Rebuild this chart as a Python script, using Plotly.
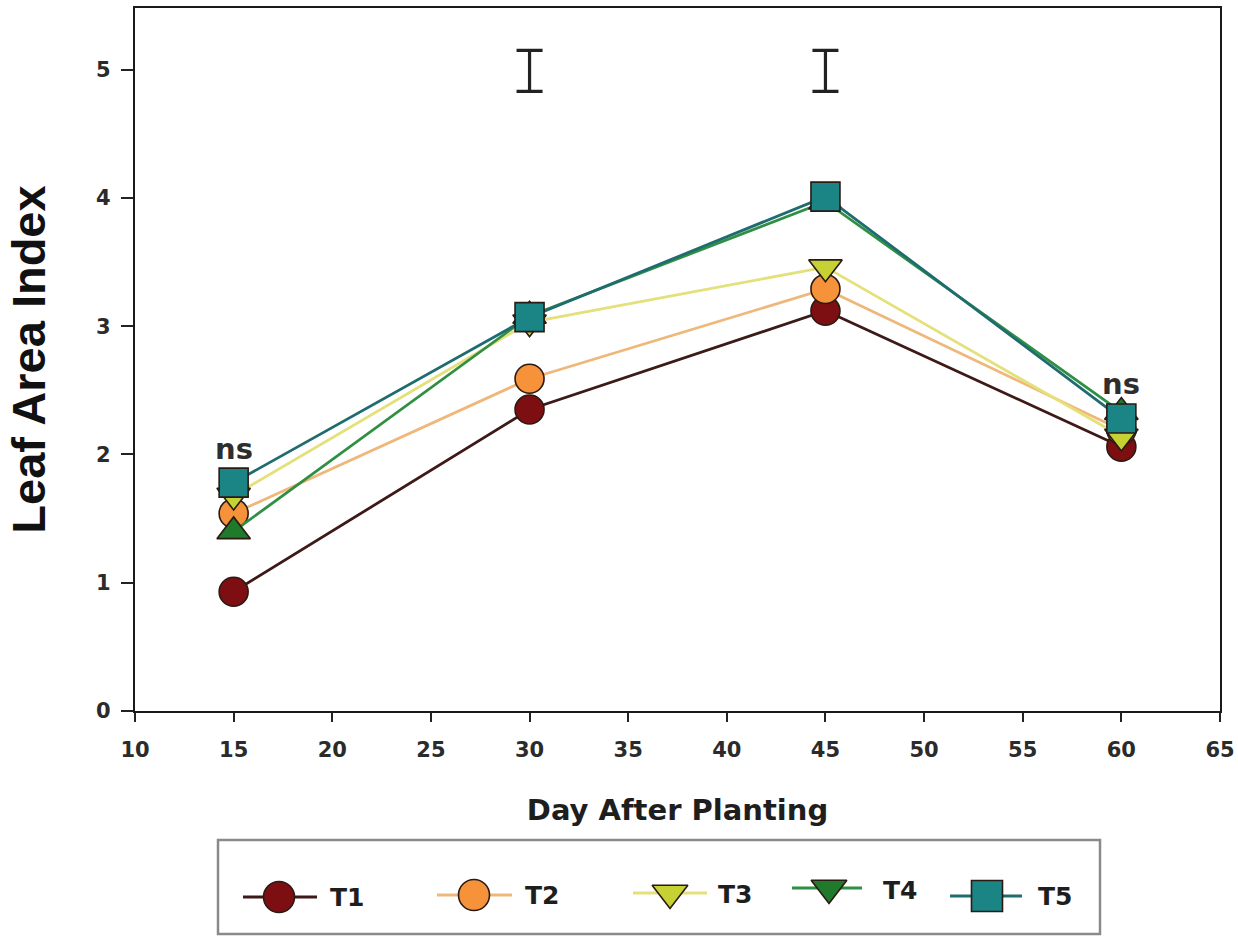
import plotly.graph_objects as go

# Days after planting and leaf area index per treatment
days = [15, 30, 45, 60]
t1 = [0.93, 2.35, 3.12, 2.06]
t2 = [1.54, 2.59, 3.29, 2.19]
t3 = [1.68, 3.03, 3.46, 2.14]
t4 = [1.40, 3.08, 3.97, 2.33]
t5 = [1.78, 3.07, 4.01, 2.28]

# LSD bars above the sampling dates with significant differences
lsd_days = [30, 45]
lsd_center = [4.99, 4.99]
lsd_half = [0.16, 0.16]

# "ns" labels for dates without significant differences
ns_days = [15, 60]
ns_y = [2.04, 2.55]

names = ["T1", "T2", "T3", "T4", "T5"]
values = [t1, t2, t3, t4, t5]

# styling per treatment: plot symbol, legend symbol, fill, line colour
plot_symbols = ["circle", "circle", "triangle-down", "triangle-up", "square"]
legend_symbols = ["circle", "circle", "triangle-down", "triangle-down", "square"]
fills = ["#7d0f12", "#f5923a", "#c6d134", "#1f7a2c", "#1b8585"]
lines = ["#3d1a18", "#efb87a", "#e4e07a", "#2f8f42", "#1f6c70"]

# hand-built legend layout (pixel coordinates on the legend axes)
leg_line_left = [243, 437, 633, 792, 950]
leg_line_right = [317, 512, 707, 862, 1022]
leg_marker_x = [279, 474, 670, 829, 987]
leg_row_y = [897, 895, 893, 888, 896]
leg_text_x = [328, 523, 716, 881, 1036]
leg_text_y = [897, 895, 894, 890, 896]

tick_family = "DejaVu Sans, Verdana, sans-serif"
edge = "#2a1a14"

fig = go.Figure()

for name, vals, sym, fill, line in zip(names, values, plot_symbols, fills, lines):
    fig.add_trace(go.Scatter(
        x=days, y=vals, mode="lines+markers", name=name, showlegend=False,
        line=dict(color=line, width=2.8),
        marker=dict(symbol=sym, size=29, color=fill, line=dict(color=edge, width=1.6)),
    ))

fig.add_trace(go.Scatter(
    x=lsd_days, y=lsd_center, mode="markers", showlegend=False,
    marker=dict(size=1, color="rgba(0,0,0,0)"),
    error_y=dict(type="data", array=lsd_half, visible=True,
                 color="#222222", thickness=3.2, width=13),
))

for xd, yd in zip(ns_days, ns_y):
    fig.add_annotation(x=xd, y=yd, text="<b>ns</b>", showarrow=False,
                       font=dict(family=tick_family, size=29, color="#2e2e2e"))

# Legend drawn on its own pair of hidden axes below the plot
for i, name in enumerate(names):
    fig.add_trace(go.Scatter(
        x=[leg_line_left[i], leg_line_right[i]], y=[leg_row_y[i], leg_row_y[i]],
        xaxis="x2", yaxis="y2", mode="lines", showlegend=False, hoverinfo="skip",
        line=dict(color=lines[i], width=2.8),
    ))
    fig.add_trace(go.Scatter(
        x=[leg_marker_x[i]], y=[leg_row_y[i]], xaxis="x2", yaxis="y2",
        mode="markers", showlegend=False, hoverinfo="skip",
        marker=dict(symbol=legend_symbols[i], size=31, color=fills[i],
                    line=dict(color=edge, width=1.6)),
    ))
    fig.add_annotation(x=leg_text_x[i], y=leg_text_y[i], xref="x2", yref="y2",
                       text=f"<b>{name}</b>", showarrow=False, xanchor="left",
                       font=dict(family=tick_family, size=25, color="#1e1e1e"))

fig.add_shape(type="rect", xref="x2", yref="y2", x0=218, x1=1100, y0=840, y1=934,
              line=dict(color="#8a8a8a", width=2.5), fillcolor="rgba(0,0,0,0)")

plot_bottom = 226 / 929

fig.update_layout(
    width=1238, height=937,
    margin=dict(l=135, r=18, t=8, b=0),
    paper_bgcolor="white", plot_bgcolor="white",
    showlegend=False,
    font=dict(family=tick_family, color="#222222"),
    xaxis=dict(
        automargin=False,
        range=[10, 65], tickmode="array", tickvals=list(range(10, 70, 5)),
        ticks="outside", ticklen=9, tickwidth=2, tickcolor="#222222",
        ticklabelstandoff=10,
        showline=True, linecolor="#1a1a1a", linewidth=2.2, mirror=True,
        showgrid=False, zeroline=False,
        tickfont=dict(size=21, color="#2b2b2b", family=tick_family, weight="bold"),
        title=dict(text="<b>Day After Planting</b>",
                   font=dict(size=29, color="#1e1e1e", family=tick_family), standoff=38),
    ),
    yaxis=dict(
        automargin=False,
        domain=[plot_bottom, 1],
        range=[0, 5.48], tickmode="array", tickvals=[0, 1, 2, 3, 4, 5],
        ticks="outside", ticklen=12, tickwidth=2, tickcolor="#222222",
        ticklabelstandoff=6,
        showline=True, linecolor="#1a1a1a", linewidth=2.2, mirror=True,
        showgrid=False, zeroline=False,
        tickfont=dict(size=21, color="#2b2b2b", family=tick_family, weight="bold"),
        title=dict(text="<b>Leaf Area Index</b>",
                   font=dict(size=47, color="#111111", family="Liberation Sans, Arial, sans-serif"),
                   standoff=36),
    ),
    xaxis2=dict(domain=[0, 1], anchor="y2", range=[135, 1220], visible=False,
                fixedrange=True, automargin=False),
    yaxis2=dict(domain=[0, plot_bottom], anchor="x2", range=[937, 711], visible=False,
                fixedrange=True, automargin=False),
)

fig.write_html("out.html")
